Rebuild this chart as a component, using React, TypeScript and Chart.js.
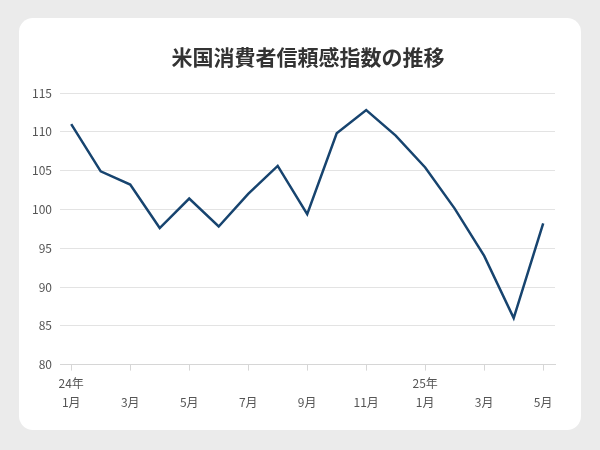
import React, { useEffect, useRef } from "react";
import { Chart, registerables } from "chart.js";

Chart.register(...registerables);

const TITLE = "米国消費者信頼感指数の推移";
const monthLabels = ["1月", "2月", "3月", "4月", "5月", "6月", "7月", "8月", "9月", "10月", "11月", "12月", "1月", "2月", "3月", "4月", "5月"];
const yearLabels = ["24年", "", "", "", "", "", "", "", "", "", "", "", "25年", "", "", "", ""];
const values = [111.0, 104.9, 103.2, 97.6, 101.4, 97.8, 102.0, 105.6, 99.4, 109.8, 112.8, 109.5, 105.4, 100.1, 94.0, 86.0, 98.2];
const shownTickIndices = [0, 2, 4, 6, 8, 10, 12, 14, 16];
const yMin = 80;
const yMax = 115;
const yStep = 5;

const FONT = "'Noto Sans CJK JP', 'Noto Sans', sans-serif";

export default function App() {
  const ref = useRef<HTMLCanvasElement | null>(null);

  useEffect(() => {
    if (!ref.current) return;
    const chart = new Chart(ref.current, {
      type: "line",
      data: {
        datasets: [
          {
            data: values.map((v, i) => ({ x: i, y: v })),
            borderColor: "#17446f",
            borderWidth: 2.5,
            pointRadius: 0,
            tension: 0,
            fill: false,
          },
        ],
      },
      options: {
        responsive: false,
        animation: false,
        layout: { padding: { left: 14, right: 26, top: 75, bottom: 15 } },
        plugins: {
          legend: { display: false },
          tooltip: { enabled: false },
          title: { display: false },
        },
        scales: {
          x: {
            type: "linear",
            min: -0.38,
            max: 16.4,
            afterBuildTicks: (scale: any) => {
              scale.ticks = shownTickIndices.map((i) => ({ value: i }));
            },
            grid: { drawOnChartArea: false, drawTicks: true, tickLength: 6, color: "#d6d6d6" },
            border: { display: true, color: "#d6d6d6" },
            ticks: {
              autoSkip: false,
              maxRotation: 0,
              padding: 3,
              color: "#555555",
              font: { family: FONT, size: 12, lineHeight: 1.6 },
              callback: (value: any) => {
                const i = Math.round(Number(value));
                return [yearLabels[i] || "", monthLabels[i] || ""];
              },
            },
          },
          y: {
            min: yMin,
            max: yMax,
            afterFit: (scale: any) => {
              scale.width = 27;
            },
            grid: { drawTicks: false, color: "#e3e3e3" },
            border: { display: false },
            ticks: {
              stepSize: yStep,
              padding: 8,
              color: "#555555",
              font: { family: FONT, size: 12 },
            },
          },
        },
      },
    });
    return () => chart.destroy();
  }, []);

  return (
    <div style={{ position: "absolute", left: 0, top: 0, width: 600, height: 450, background: "#ebebeb" }}>
      <div
        style={{
          position: "absolute",
          left: 19,
          top: 18,
          width: 562,
          height: 412,
          background: "#ffffff",
          borderRadius: 14,
          overflow: "hidden",
        }}
      >
        <canvas ref={ref} width={562} height={412} style={{ position: "absolute", left: 0, top: 0, display: "block", width: 562, height: 412 }} />
        <div
          style={{
            position: "absolute",
            left: 0,
            top: 24,
            width: 578,
            textAlign: "center",
            fontFamily: FONT,
            fontWeight: 700,
            fontSize: 21,
            lineHeight: "28px",
            color: "#333333",
            whiteSpace: "nowrap",
          }}
        >
          {TITLE}
        </div>
      </div>
    </div>
  );
}
